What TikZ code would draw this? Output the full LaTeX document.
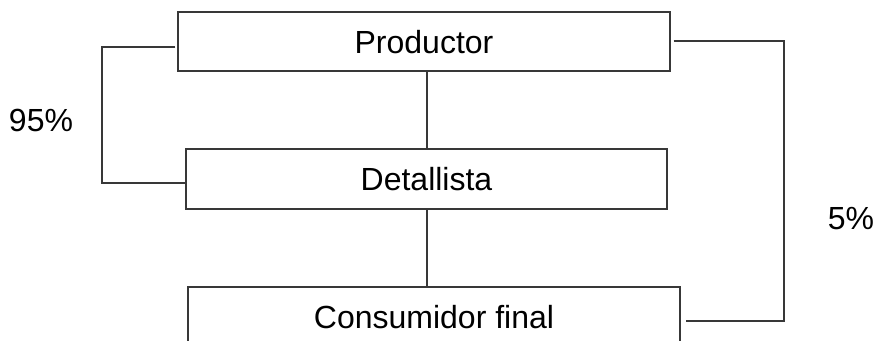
\documentclass[tikz,border=0pt]{standalone}
\usepackage{fontspec}
\setmainfont{Liberation Sans}
\begin{document}
\begin{tikzpicture}[x=1pt,y=-1pt,
  ln/.style={draw=black!78,line width=1.3pt},
  box/.style={ln,rectangle,inner sep=0pt,text height=23pt,text depth=0pt,
    font=\fontsize{32}{38}\selectfont},
  lbl/.style={inner sep=0pt,text height=23pt,text depth=0pt,
    font=\fontsize{32}{38}\selectfont}]
\clip (0,0) rectangle (877,340);
\fill[white] (0,0) rectangle (877,340);
\node[box,minimum width=492pt,minimum height=59pt] (prod) at (424,41.5) {Productor};
\node[box,minimum width=481pt,minimum height=60pt] (det) at (426.5,179) {Detallista};
\node[box,minimum width=492pt,minimum height=60pt] (cons) at (434,317) {Consumidor final};
\coordinate (v) at (427,0);
\coordinate (l1) at (102,47);
\coordinate (l2) at (102,183);
\coordinate (r1) at (784,41);
\coordinate (r2) at (784,321);
\draw[ln] (prod.south -| v) -- (det.north -| v);
\draw[ln] (det.south -| v) -- (cons.north -| v);
\draw[ln] ([xshift=-2pt]prod.west |- l1) -- (l1) -- (l2) -- (det.west |- l2);
\draw[ln] ([xshift=3pt]prod.east |- r1) -- (r1) -- (r2) -- ([xshift=5pt]cons.east |- r2);
\node[lbl] (p95) at (41,119.5) {95\%};
\node[lbl] (p5) at (851,218) {5\%};
\end{tikzpicture}
\end{document}
